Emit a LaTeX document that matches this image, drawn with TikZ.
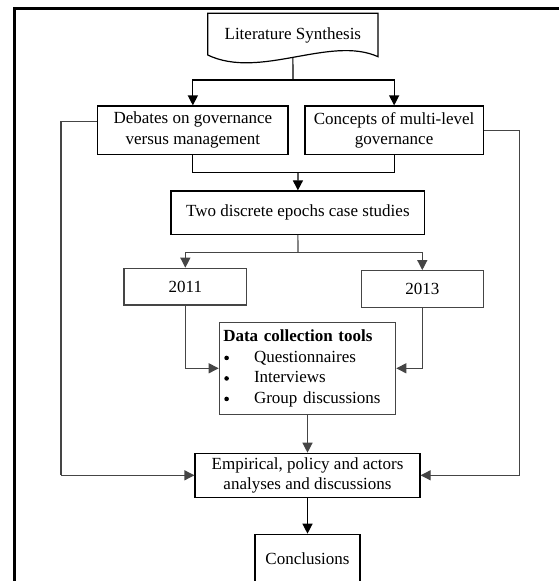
\documentclass[tikz,border=0pt]{standalone}
\usepackage{fontspec}
\setmainfont{Liberation Serif}
\usetikzlibrary{arrows.meta}
\definecolor{lgray}{HTML}{454545}
\tikzset{
  txt/.style={font=\fontsize{17}{20.5}\selectfont},
  boxb/.style={txt, draw=black, line width=1.2pt, rectangle, inner sep=0pt, align=center},
  boxg/.style={txt, draw=lgray, line width=1.2pt, rectangle, inner sep=0pt, align=center},
  linb/.style={draw=black, line width=1.2pt},
  ling/.style={draw=lgray, line width=1.2pt},
  arrb/.style={linb, -{Triangle[length=10pt,width=10pt]}},
  arrg/.style={ling, -{Triangle[length=10pt,width=10pt]}}
}
\newcommand{\mybul}{\makebox[30.7pt][l]{\hspace{1pt}\tikz[baseline=-4.2pt]\fill[black] (0,0) circle (2.3pt);}}
\begin{document}
\begin{tikzpicture}[x=1pt,y=-1pt]
\useasboundingbox (0,0) rectangle (558,581);
% outer frame (left and top)
\draw[line width=3pt, line join=miter] (14.7,600) -- (14.7,8.7) -- (570,8.7);

% literature synthesis (document shape)
\node[txt, inner sep=0pt, minimum width=170.3pt, minimum height=43.7pt] (lit) at (292.85,35.15) {Literature Synthesis};
\draw[line width=1.2pt, line join=miter] (207.7,55) -- (207.7,13.3) -- (378,13.3) -- (378,56.7)
   .. controls (330,35) and (260,80) .. (207.7,55);

\node[boxb, minimum width=190.3pt, minimum height=48.3pt] (deb) at (192.85,130.15) {Debates on governance\\versus management};
\node[boxb, minimum width=178.3pt, minimum height=48.3pt] (con) at (394.15,130.15) {Concepts of multi-level\\governance};
\node[boxb, minimum width=253.7pt, minimum height=43.3pt] (two) at (297.85,212.65) {Two discrete epochs case studies};
\node[boxg, minimum width=122.7pt, minimum height=36.7pt] (y11) at (185.35,286.65) {2011};
\node[boxg, minimum width=122pt, minimum height=36.6pt] (y13) at (422.3,289) {2013};
\node[boxg, minimum width=176.4pt, minimum height=92pt, text width=168.4pt, inner xsep=4pt, align=left] (data) at (307.5,368.3)
  {\textbf{Data collection tools}\\
   \mybul Questionnaires\\
   \mybul Interviews\\
   \mybul Group discussions};
\node[boxb, minimum width=225pt, minimum height=44pt] (emp) at (307.5,475.3) {Empirical, policy and actors\\analyses and discussions};
\node[boxb, minimum width=105pt, minimum height=48pt] (concl) at (307.5,558.3) {Conclusions};

% junction coordinates
\coordinate (j1) at (293,80);
\coordinate (j2) at (298,172.7);
\coordinate (j3) at (298,252.7);
\coordinate (lc) at (61,475.3);
\coordinate (rc) at (519.7,475.3);

% connectors
\draw[linb] (lit.south) -- (j1);
\draw[arrb] (j1) -| (deb.north);
\draw[arrb] (j1) -| (con.north);
\draw[linb] (deb.south) |- (j2);
\draw[linb] (con.south) |- (j2);
\draw[arrb] (j2) -- (two.north);
\draw[ling] (two.south) -- (j3);
\draw[arrg] (j3) -| (y11.north);
\draw[arrg] (j3) -| (y13.north);
\draw[arrg] (y11.south) |- (data.west);
\draw[arrg] (y13.south) |- (data.east);
\draw[arrg] (data.south) -- (emp.north);
\draw[ling] ([yshift=8.5pt]deb.west) -| (lc);
\draw[arrg] (lc) -- (emp.west);
\draw[ling] (con.east) -| (rc);
\draw[arrg] (rc) -- (emp.east);
\draw[arrb] (emp.south) -- (concl.north);
\end{tikzpicture}
\end{document}
